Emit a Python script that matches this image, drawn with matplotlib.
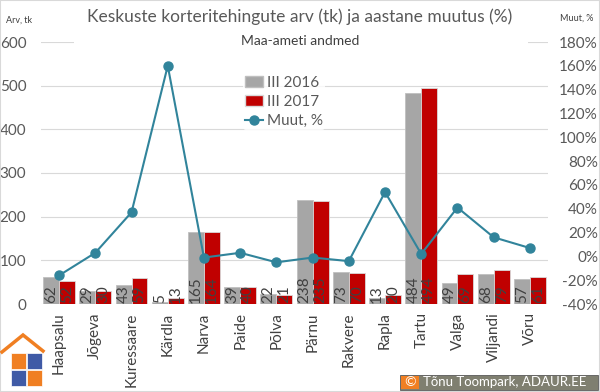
import matplotlib
matplotlib.use("Agg")
import matplotlib.pyplot as plt
from matplotlib.patches import Rectangle, Patch
from matplotlib.lines import Line2D
import numpy as np

plt.rcParams['font.family'] = ['Lato', 'DejaVu Sans']

cities = ["Haapsalu", "Jõgeva", "Kuressaare", "Kärdla", "Narva", "Paide", "Põlva",
          "Pärnu", "Rakvere", "Rapla", "Tartu", "Valga", "Viljandi", "Võru"]
deals_2016 = [62, 29, 43, 5, 165, 39, 22, 238, 73, 13, 484, 49, 68, 57]
deals_2017 = [52, 30, 59, 13, 164, 40, 21, 235, 70, 20, 494, 69, 79, 61]
change_pct = [-16, 3, 37, 160, -1, 3, -5, -1, -4, 54, 2, 41, 16, 7]

GRAY = "#A6A6A6"
RED = "#C00000"
TEAL = "#31849B"
TXT = "#595959"

W, H = 600, 392
fig = plt.figure(figsize=(6, 3.92), dpi=100)
ax = fig.add_axes([41 / W, 1 - 304 / H, (548 - 41) / W, (304 - 42) / H])
ax2 = ax.twinx()

x = np.arange(len(cities))
bw = 0.44
ax.bar(x - bw / 2, deals_2016, bw, color=GRAY, edgecolor="#BFBFBF", linewidth=0.6, zorder=2)
ax.bar(x + bw / 2, deals_2017, bw, color=RED, edgecolor="#D9D9D9", linewidth=0.6, zorder=2)
for i in x:
    ax.text(i - bw / 2, 2, str(deals_2016[i]), rotation=90, ha="center", va="bottom",
            fontsize=11, color="#404040", zorder=3)
    ax.text(i + bw / 2, 2, str(deals_2017[i]), rotation=90, ha="center", va="bottom",
            fontsize=11, color="#404040", zorder=3)

ax.set_xlim(-0.5, len(cities) - 0.5)
ax.set_ylim(0, 600)
ax.set_yticks(range(0, 601, 100))
ax.yaxis.grid(True, color="#D9D9D9", linewidth=0.8, zorder=0)
ax.set_axisbelow(True)
ax.set_xticks(x)
ax.set_xticklabels(cities, rotation=90, fontsize=11, color="#404040")
ax.tick_params(axis="x", length=0, pad=6)
ax.tick_params(axis="y", length=0, pad=10.5, labelsize=11, labelcolor=TXT)
for s in ax.spines.values():
    s.set_visible(False)

ax2.plot(x, change_pct, color=TEAL, linewidth=1.5, marker="o", markersize=6.5, zorder=4)
ax2.set_ylim(-40, 180)
ax2.set_yticks(range(-40, 181, 20))
ax2.set_yticklabels([f"{v}%" for v in range(-40, 181, 20)])
ax2.tick_params(axis="y", length=0, pad=36, labelsize=11, labelcolor=TXT)
for lab in ax2.get_yticklabels():
    lab.set_horizontalalignment("right")
for s in ax2.spines.values():
    s.set_visible(False)

# white box behind subtitle that hides the top gridline
fig.patches.append(Rectangle((74 / W, 1 - 50 / H), (528 - 74) / W, 14 / H,
                             transform=fig.transFigure, facecolor="white",
                             edgecolor="none", zorder=5))

fig.text(300 / W, 1 - 17 / H, "Keskuste korteritehingute arv (tk) ja aastane muutus (%)",
         ha="center", va="center", fontsize=12.5, color=TXT)
fig.text(300 / W, 1 - 41 / H, "Maa-ameti andmed", ha="center", va="center",
         fontsize=10, color="#404040", zorder=6)
fig.text(6 / W, 1 - 20 / H, "Arv, tk", ha="left", va="center", fontsize=6.5, color="#404040")
fig.text(560 / W, 1 - 18 / H, "Muut, %", ha="left", va="center", fontsize=6.5, color="#404040")

handles = [Patch(facecolor=GRAY, edgecolor="#BFBFBF"),
           Patch(facecolor=RED, edgecolor="#D9D9D9"),
           Line2D([], [], color=TEAL, linewidth=1.5, marker="o", markersize=6.5)]
leg = fig.legend(handles, ["III 2016", "III 2017", "Muut, %"], loc="upper left",
                 bbox_to_anchor=(243 / W, 1 - 74 / H), frameon=True, fontsize=11,
                 handlelength=1.2, handletextpad=0.3, labelspacing=0.35,
                 borderpad=0.1, borderaxespad=0)
leg.get_frame().set_facecolor("white")
leg.get_frame().set_edgecolor("none")
for t in leg.get_texts():
    t.set_color(TXT)


def px(xp, yp):
    return (xp / W, 1 - yp / H)


# logo: roof and puzzle squares
fig.lines.append(Line2D([2 / W, 23 / W, 43 / W], [1 - 352 / H, 1 - 335 / H, 1 - 351 / H],
                        transform=fig.transFigure, color="#F07F22", linewidth=2.5,
                        solid_joinstyle="miter"))
for (x0, y0, c) in [(11, 353, "#F07F22"), (27, 353, "#3F5AA6"),
                    (11, 370, "#3F5AA6"), (27, 370, "#F07F22")]:
    fig.patches.append(Rectangle(px(x0, y0 + 16), 15 / W, 16 / H, transform=fig.transFigure,
                                 facecolor=c, edgecolor="white", linewidth=0.5))

# copyright box
fig.patches.append(Rectangle(px(400, 390), 198 / W, 15 / H, transform=fig.transFigure,
                             facecolor="#7F7F70", edgecolor="#595959", linewidth=0.6))
fig.patches.append(Rectangle(px(401, 389), 18 / W, 13 / H, transform=fig.transFigure,
                             facecolor="#F07F22", edgecolor="none"))
fig.text(410 / W, 1 - 382.5 / H, "©", ha="center", va="center", fontsize=10, color="white")
fig.text(423 / W, 1 - 382.5 / H, "Tõnu Toompark, ADAUR.EE", ha="left", va="center",
         fontsize=9.5, color="white")

# outer frame
fig.patches.append(Rectangle((0, 0), 1, 1, transform=fig.transFigure, facecolor="none",
                             edgecolor="#D9D9D9", linewidth=1.5))

fig.savefig("out.png", dpi=100)
